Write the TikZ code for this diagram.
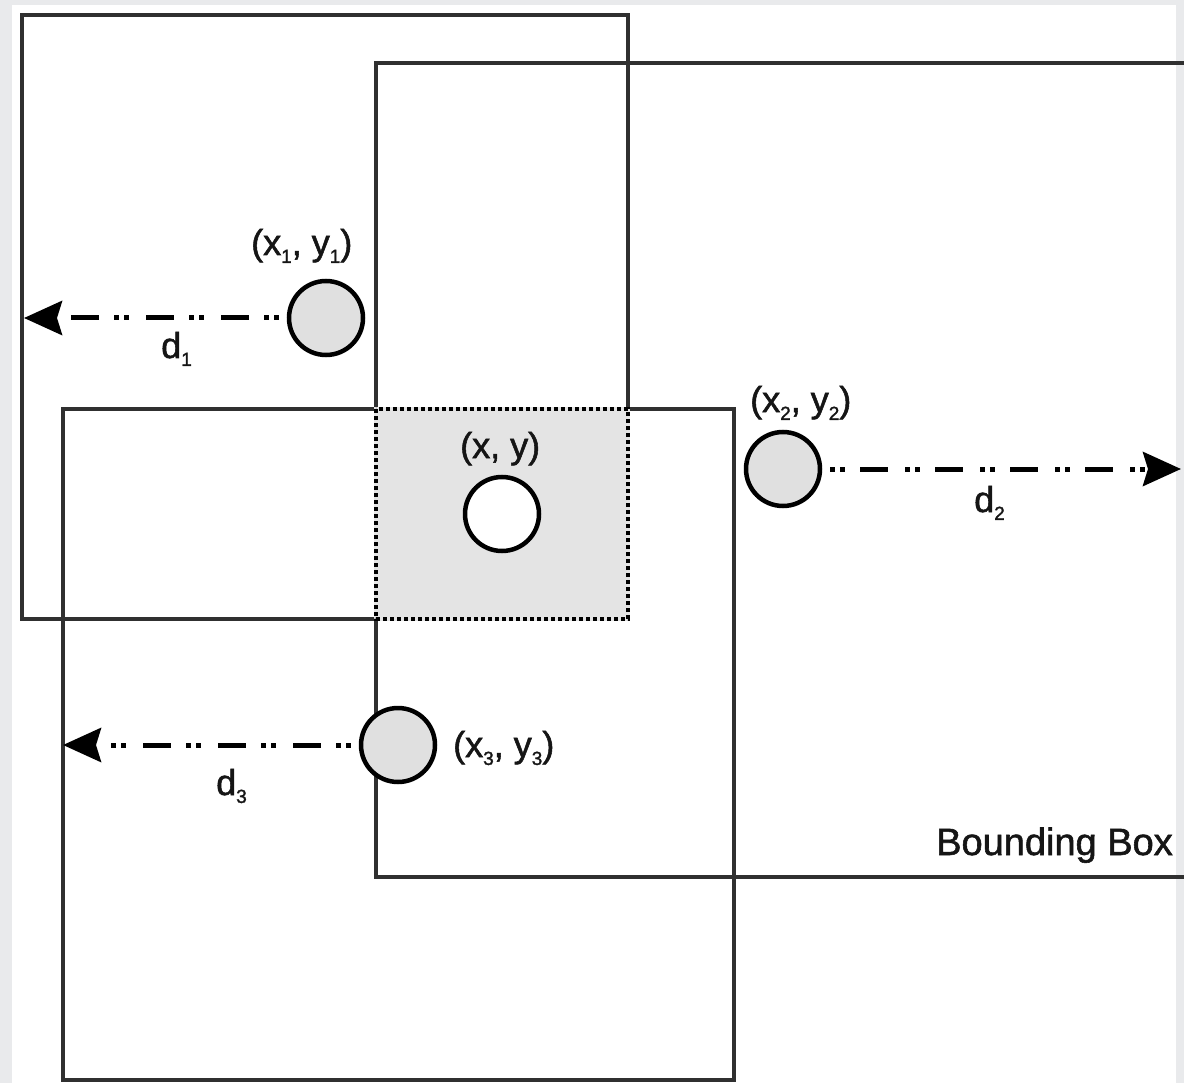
\documentclass[tikz,border=0pt]{standalone}
\usepackage{fontspec}
\setmainfont{Liberation Sans}
\newfontfamily\lblfont[FakeBold=1.5]{Liberation Sans}
\usetikzlibrary{arrows.meta}
\definecolor{outerbg}{HTML}{E9EAEC}
\definecolor{intershade}{HTML}{E4E4E4}
\definecolor{ptfill}{HTML}{E0E0E0}
\definecolor{boxline}{HTML}{303030}
\definecolor{txt}{HTML}{151515}
\newcommand\lsub[1]{\raisebox{-0.22em}{\fontsize{19}{19}\selectfont #1}}
\begin{document}
\begin{tikzpicture}[x=1pt,y=-1pt,
  box/.style={draw=boxline, line width=3.5pt},
  pt/.style={circle, draw=black, line width=4.5pt, fill=ptfill, minimum size=74pt, inner sep=0pt},
  lbl/.style={font=\lblfont\fontsize{36}{40}\selectfont, text=txt, inner sep=0pt},
  dist/.style={line width=5pt, dash pattern=on 5pt off 5pt on 5pt off 15pt on 28pt off 17pt, dash phase=67pt,
    -{Stealth[length=38pt,width=34pt,inset=5pt]}}]
\fill[outerbg] (0,0) rectangle (1184,1083);
\fill[white] (12,5) rectangle (1176,1083);
\useasboundingbox (0,0) rectangle (1184,1083);
\clip (0,0) rectangle (1184,1083);
% boxes
\draw[box] (22,15) rectangle (628,619);
\draw[box] (376,63) rectangle (1210,877);
\draw[box] (63,409) rectangle (734,1080);
% intersection
\fill[intershade] (374,407) rectangle (630,621);
\draw[line width=4.5pt, dash pattern=on 4pt off 3pt] (376,409) rectangle (628,619);
% points
\node[pt, fill=white] (c) at (502,514) {};
\node[pt] (p1) at (326,318) {};
\node[pt] (p2) at (783,469) {};
\node[pt] (p3) at (398,745) {};
\coordinate (t1) at (24,318);
\coordinate (t2) at (1181,469);
\coordinate (t3) at (63,745);
\draw[dist] (p1) -- (t1);
\draw[dist] (p2) -- (t2);
\draw[dist] (p3) -- (t3);
% labels
\node[lbl, anchor=base west] (lc) at (460,458) {(x, y)};
\node[lbl, anchor=base west] (l1) at (251,255) {(x\lsub1, y\lsub1)};
\node[lbl, anchor=base west] (ld1) at (161,358) {d\lsub1};
\node[lbl, anchor=base west] (l2) at (750,412) {(x\lsub2, y\lsub2)};
\node[lbl, anchor=base west] (ld2) at (974,512) {d\lsub2};
\node[lbl, anchor=base west] (l3) at (453,757) {(x\lsub3, y\lsub3)};
\node[lbl, anchor=base west] (ld3) at (216,795) {d\lsub3};
\node[lbl, anchor=base east, font=\lblfont\fontsize{38}{42}\selectfont] (bb) at (1173,855) {Bounding Box};
\end{tikzpicture}
\end{document}
